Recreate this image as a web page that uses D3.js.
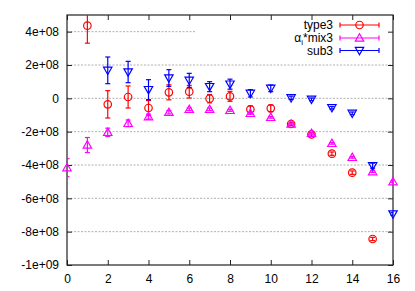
<!DOCTYPE html>
<html>
<head>
<meta charset="utf-8">
<script src="https://cdn.jsdelivr.net/npm/d3@7"></script>
<style>
  body { margin: 0; background: #fff; }
  svg { font-family: "Liberation Sans", Arial, sans-serif; }
</style>
</head>
<body>
<svg id="chart"></svg>
<script>
const margin = { top: 15, right: 22, bottom: 26, left: 67 };
const width = 326;
const height = 250;

// x positions and data
const xTicks = [0, 2, 4, 6, 8, 10, 12, 14, 16];
const yTicks = [4e8, 2e8, 0, -2e8, -4e8, -6e8, -8e8, -1e9];
const yTickLabels = ["4e+08", "2e+08", "0", "-2e+08", "-4e+08", "-6e+08", "-8e+08", "-1e+09"];

const type3X = [1, 2, 3, 4, 5, 6, 7, 8, 9, 10, 11, 12, 13, 14, 15];
const type3Y = [4.36e8, -0.36e8, 0.08e8, -0.58e8, 0.36e8, 0.4e8, -0.02e8, 0.12e8, -0.66e8, -0.6e8, -1.54e8, -2.16e8, -3.32e8, -4.46e8, -8.44e8];
const type3Err = [1.05e8, 0.82e8, 0.66e8, 0.45e8, 0.45e8, 0.38e8, 0.25e8, 0.3e8, 0.2e8, 0.2e8, 0.1e8, 0.1e8, 0.1e8, 0.1e8, 0.1e8];

const mixX = [0, 1, 2, 3, 4, 5, 6, 7, 8, 9, 10, 11, 12, 13, 14, 15, 16];
const mixY = [-4.16e8, -2.8e8, -2.04e8, -1.5e8, -1.1e8, -0.84e8, -0.66e8, -0.66e8, -0.72e8, -0.9e8, -1.14e8, -1.54e8, -2.1e8, -2.7e8, -3.54e8, -4.4e8, -5.0e8];
const mixErr = [0.54e8, 0.45e8, 0.25e8, 0.2e8, 0.15e8, 0.1e8, 0.08e8, 0.08e8, 0.06e8, 0.06e8, 0.05e8, 0.05e8, 0.05e8, 0.05e8, 0.05e8, 0.05e8, 0.05e8];

const subX = [2, 3, 4, 5, 6, 7, 8, 9, 10, 11, 12, 13, 14, 15, 16];
const subY = [1.68e8, 1.58e8, 0.52e8, 1.22e8, 1.08e8, 0.7e8, 0.85e8, 0.3e8, 0.6e8, 0.03e8, -0.06e8, -0.56e8, -0.9e8, -4.04e8, -6.94e8];
const subErr = [0.8e8, 0.64e8, 0.6e8, 0.5e8, 0.42e8, 0.3e8, 0.3e8, 0.22e8, 0.2e8, 0.1e8, 0.08e8, 0.08e8, 0.08e8, 0.15e8, 0.08e8];

const series = [
    { name: "type3", color: "#ff0000", shape: "circle", xs: type3X, ys: type3Y, errs: type3Err },
    { name: "mix3", color: "#ff00ff", shape: "up", xs: mixX, ys: mixY, errs: mixErr },
    { name: "sub3", color: "#0000ff", shape: "down", xs: subX, ys: subY, errs: subErr }
];

const svgRoot = d3.select("#chart")
    .attr("width", 415)
    .attr("height", 291);

const svg = svgRoot.append("g")
    .attr("transform", `translate(${margin.left},${margin.top})`);

const x = d3.scaleLinear().domain([0, 16]).range([0, width]);
const y = d3.scaleLinear().domain([-1e9, 5e8]).range([height, 0]);

svg.append("defs").append("clipPath")
    .attr("id", "plotclip")
    .append("rect")
    .attr("width", width)
    .attr("height", height);

// grid lines (horizontal only)
svg.append("g")
    .selectAll("line")
    .data(yTicks.filter(d => d > -1e9))
    .enter().append("line")
    .attr("x1", 0)
    .attr("x2", width)
    .attr("y1", d => y(d))
    .attr("y2", d => y(d))
    .attr("stroke", "#b0b0b0")
    .attr("stroke-width", 1)
    .attr("stroke-dasharray", "2,1.5");

// key box is opaque and hides the grid behind it
svg.append("rect")
    .attr("x", x(6.3))
    .attr("y", 1)
    .attr("width", width - x(6.3) - 1)
    .attr("height", 42)
    .attr("fill", "#fff");

// axes, ticks on all four sides pointing inward
const yFmt = d => yTickLabels[yTicks.indexOf(d)];

svg.append("g")
    .attr("transform", `translate(0,${height})`)
    .call(d3.axisBottom(x).tickValues(xTicks).tickSize(-5).tickPadding(9).tickFormat(d3.format("d")))
    .call(g => g.select(".domain").remove());

svg.append("g")
    .call(d3.axisTop(x).tickValues(xTicks).tickSize(-5).tickFormat(""))
    .call(g => g.select(".domain").remove());

svg.append("g")
    .call(d3.axisLeft(y).tickValues(yTicks).tickSize(-5).tickPadding(8).tickFormat(yFmt))
    .call(g => g.select(".domain").remove());

svg.append("g")
    .attr("transform", `translate(${width},0)`)
    .call(d3.axisRight(y).tickValues(yTicks).tickSize(-5).tickFormat(""))
    .call(g => g.select(".domain").remove());

svg.selectAll(".tick line").attr("stroke", "#222");
svg.selectAll(".tick text")
    .attr("fill", "#000")
    .style("font-size", "12px")
    .style("font-family", "'Liberation Sans', Arial, sans-serif");

svg.append("rect")
    .attr("width", width)
    .attr("height", height)
    .attr("fill", "none")
    .attr("stroke", "#222")
    .attr("stroke-width", 1.2);

// marker paths
function markerPath(shape) {
    if (shape === "circle") return d3.symbol(d3.symbolCircle, 44)();
    const s = 4.2;
    if (shape === "up") return `M0,${-s}L${s},${s * 0.75}L${-s},${s * 0.75}Z`;
    return `M0,${s}L${s},${-s * 0.75}L${-s},${-s * 0.75}Z`;
}

function drawErrorBar(g, px, pyLo, pyHi, color, cap) {
    g.append("line")
        .attr("x1", px).attr("x2", px)
        .attr("y1", pyLo).attr("y2", pyHi)
        .attr("stroke", color).attr("stroke-width", 1.2);
    [pyLo, pyHi].forEach(py => {
        g.append("line")
            .attr("x1", px - cap).attr("x2", px + cap)
            .attr("y1", py).attr("y2", py)
            .attr("stroke", color).attr("stroke-width", 1.2);
    });
}

series.forEach(s => {
    const bars = svg.append("g").attr("clip-path", "url(#plotclip)");
    const marks = svg.append("g");
    s.xs.forEach((xv, i) => {
        drawErrorBar(bars, x(xv), y(s.ys[i] - s.errs[i]), y(s.ys[i] + s.errs[i]), s.color, 2.5);
        marks.append("path")
            .attr("d", markerPath(s.shape))
            .attr("transform", `translate(${x(xv)},${y(s.ys[i])})`)
            .attr("fill", "none")
            .attr("stroke", s.color)
            .attr("stroke-width", 1.2);
    });
});

// legend
const legend = svg.append("g");
const rowY = [10, 23, 35.5];
series.forEach((s, i) => {
    const row = legend.append("g").attr("transform", `translate(0,${rowY[i]})`);
    const t = row.append("text")
        .attr("x", 266)
        .attr("y", 0)
        .attr("dy", "0.35em")
        .attr("text-anchor", "end")
        .style("font-size", "12px")
        .attr("fill", "#000");
    if (s.name === "mix3") {
        t.append("tspan").text("α");
        t.append("tspan").attr("dy", 3).style("font-size", "8px").text("i");
        t.append("tspan").attr("dy", -3).text("*mix3");
    } else {
        t.text(s.name);
    }
    const x0 = 273, x1 = 312;
    row.append("line")
        .attr("x1", x0).attr("x2", x1)
        .attr("stroke", s.color).attr("stroke-width", 1.2);
    [x0, x1].forEach(xx => {
        row.append("line")
            .attr("x1", xx).attr("x2", xx)
            .attr("y1", -2.5).attr("y2", 2.5)
            .attr("stroke", s.color).attr("stroke-width", 1.2);
    });
    row.append("path")
        .attr("d", markerPath(s.shape))
        .attr("transform", `translate(${(x0 + x1) / 2},0)`)
        .attr("fill", "none")
        .attr("stroke", s.color)
        .attr("stroke-width", 1.2);
});
</script>
</body>
</html>
